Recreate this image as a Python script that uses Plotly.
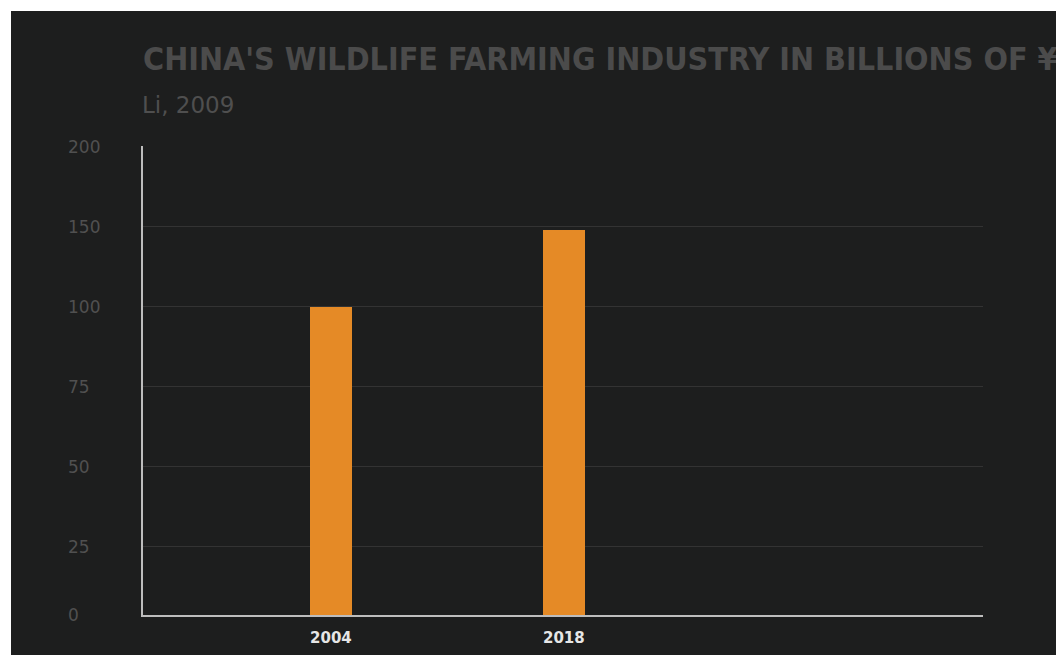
import numpy as np
import plotly.graph_objects as go

# ---- data ----
years = ["2004", "2018"]
values = [100, 148]  # billions of yuan

# y tick labels of the (uneven) value axis
tick_values = [0, 25, 50, 75, 100, 150, 200]
tick_labels = ["0", "25", "50", "75", "100", "150", "200"]

title_text = "CHINA'S WILDLIFE FARMING INDUSTRY IN BILLIONS OF ¥"
subtitle_text = "Li, 2009"

# ---- axis scale (piecewise: the chart's ticks are evenly spaced but unevenly valued) ----
AXIS_POS = [0, 0.85, 1.85, 2.85, 3.85, 4.85, 5.85]


def to_axis(v):
    return float(np.interp(v, tick_values, AXIS_POS))


bar_heights = [to_axis(v) for v in values]

BG = "#1d1e1e"
fig = go.Figure()
fig.add_trace(go.Bar(
    x=years, y=bar_heights, width=0.18,
    marker=dict(color="#e58a26", line=dict(width=0)),
    customdata=values, hovertemplate="%{x}: %{customdata}<extra></extra>",
))

L, R, T, B = 143, 73, 146, 40
W, H = 1056, 655
pw, ph = W - L - R, H - T - B

# dark panel (white frame at top/left)
fig.add_shape(type="rect", xref="paper", yref="paper",
              x0=(11 - L) / pw, x1=(W - L) / pw + 0.02,
              y0=-(B + 5) / ph, y1=(H - B - 11) / ph,
              fillcolor=BG, line=dict(width=0), layer="below")

# left-aligned y tick labels
for v, lab in zip(tick_values, tick_labels):
    fig.add_annotation(x=(66 - L) / pw, xref="paper", y=to_axis(v), yref="y",
                       text=lab, showarrow=False, xanchor="left", yanchor="middle",
                       font=dict(family="DejaVu Sans", size=17, color="#505050"))

fig.add_annotation(x=(141 - L) / pw, xref="paper", y=(H - B - 59) / ph, yref="paper",
                   text="<b>" + title_text + "</b>", showarrow=False,
                   xanchor="left", yanchor="middle",
                   font=dict(family="DejaVu Sans Condensed, Roboto Condensed, Liberation Sans Narrow, DejaVu Sans",
                             size=32, color="#4b4b4b"))
fig.add_annotation(x=(140 - L) / pw, xref="paper", y=(H - B - 105) / ph, yref="paper",
                   text=subtitle_text, showarrow=False,
                   xanchor="left", yanchor="middle",
                   font=dict(family="DejaVu Sans", size=23, color="#4f4f4f"))

fig.update_layout(
    width=W, height=H,
    margin=dict(l=L, r=R, t=T, b=B, autoexpand=False),
    paper_bgcolor="white",
    plot_bgcolor="rgba(0,0,0,0)",
    showlegend=False,
    bargap=0,
)
fig.update_xaxes(
    type="category", range=[-0.807, 2.8], automargin=False,
    showline=True, linecolor="#bdbdbd", linewidth=2,
    showgrid=False, ticks="", zeroline=False, ticklabelstandoff=8,
    tickfont=dict(family="DejaVu Sans", size=15, color="#e6e6e6", weight="bold"),
)
fig.update_yaxes(
    range=[0, 5.86], tickvals=AXIS_POS, ticktext=tick_labels, automargin=False,
    showticklabels=False, showgrid=True, gridcolor="#333333", gridwidth=1,
    showline=True, linecolor="#bdbdbd", linewidth=2, zeroline=False, ticks="",
)

fig.write_html("out.html", post_script="document.body.style.margin='0';",
               config={"displayModeBar": False})
